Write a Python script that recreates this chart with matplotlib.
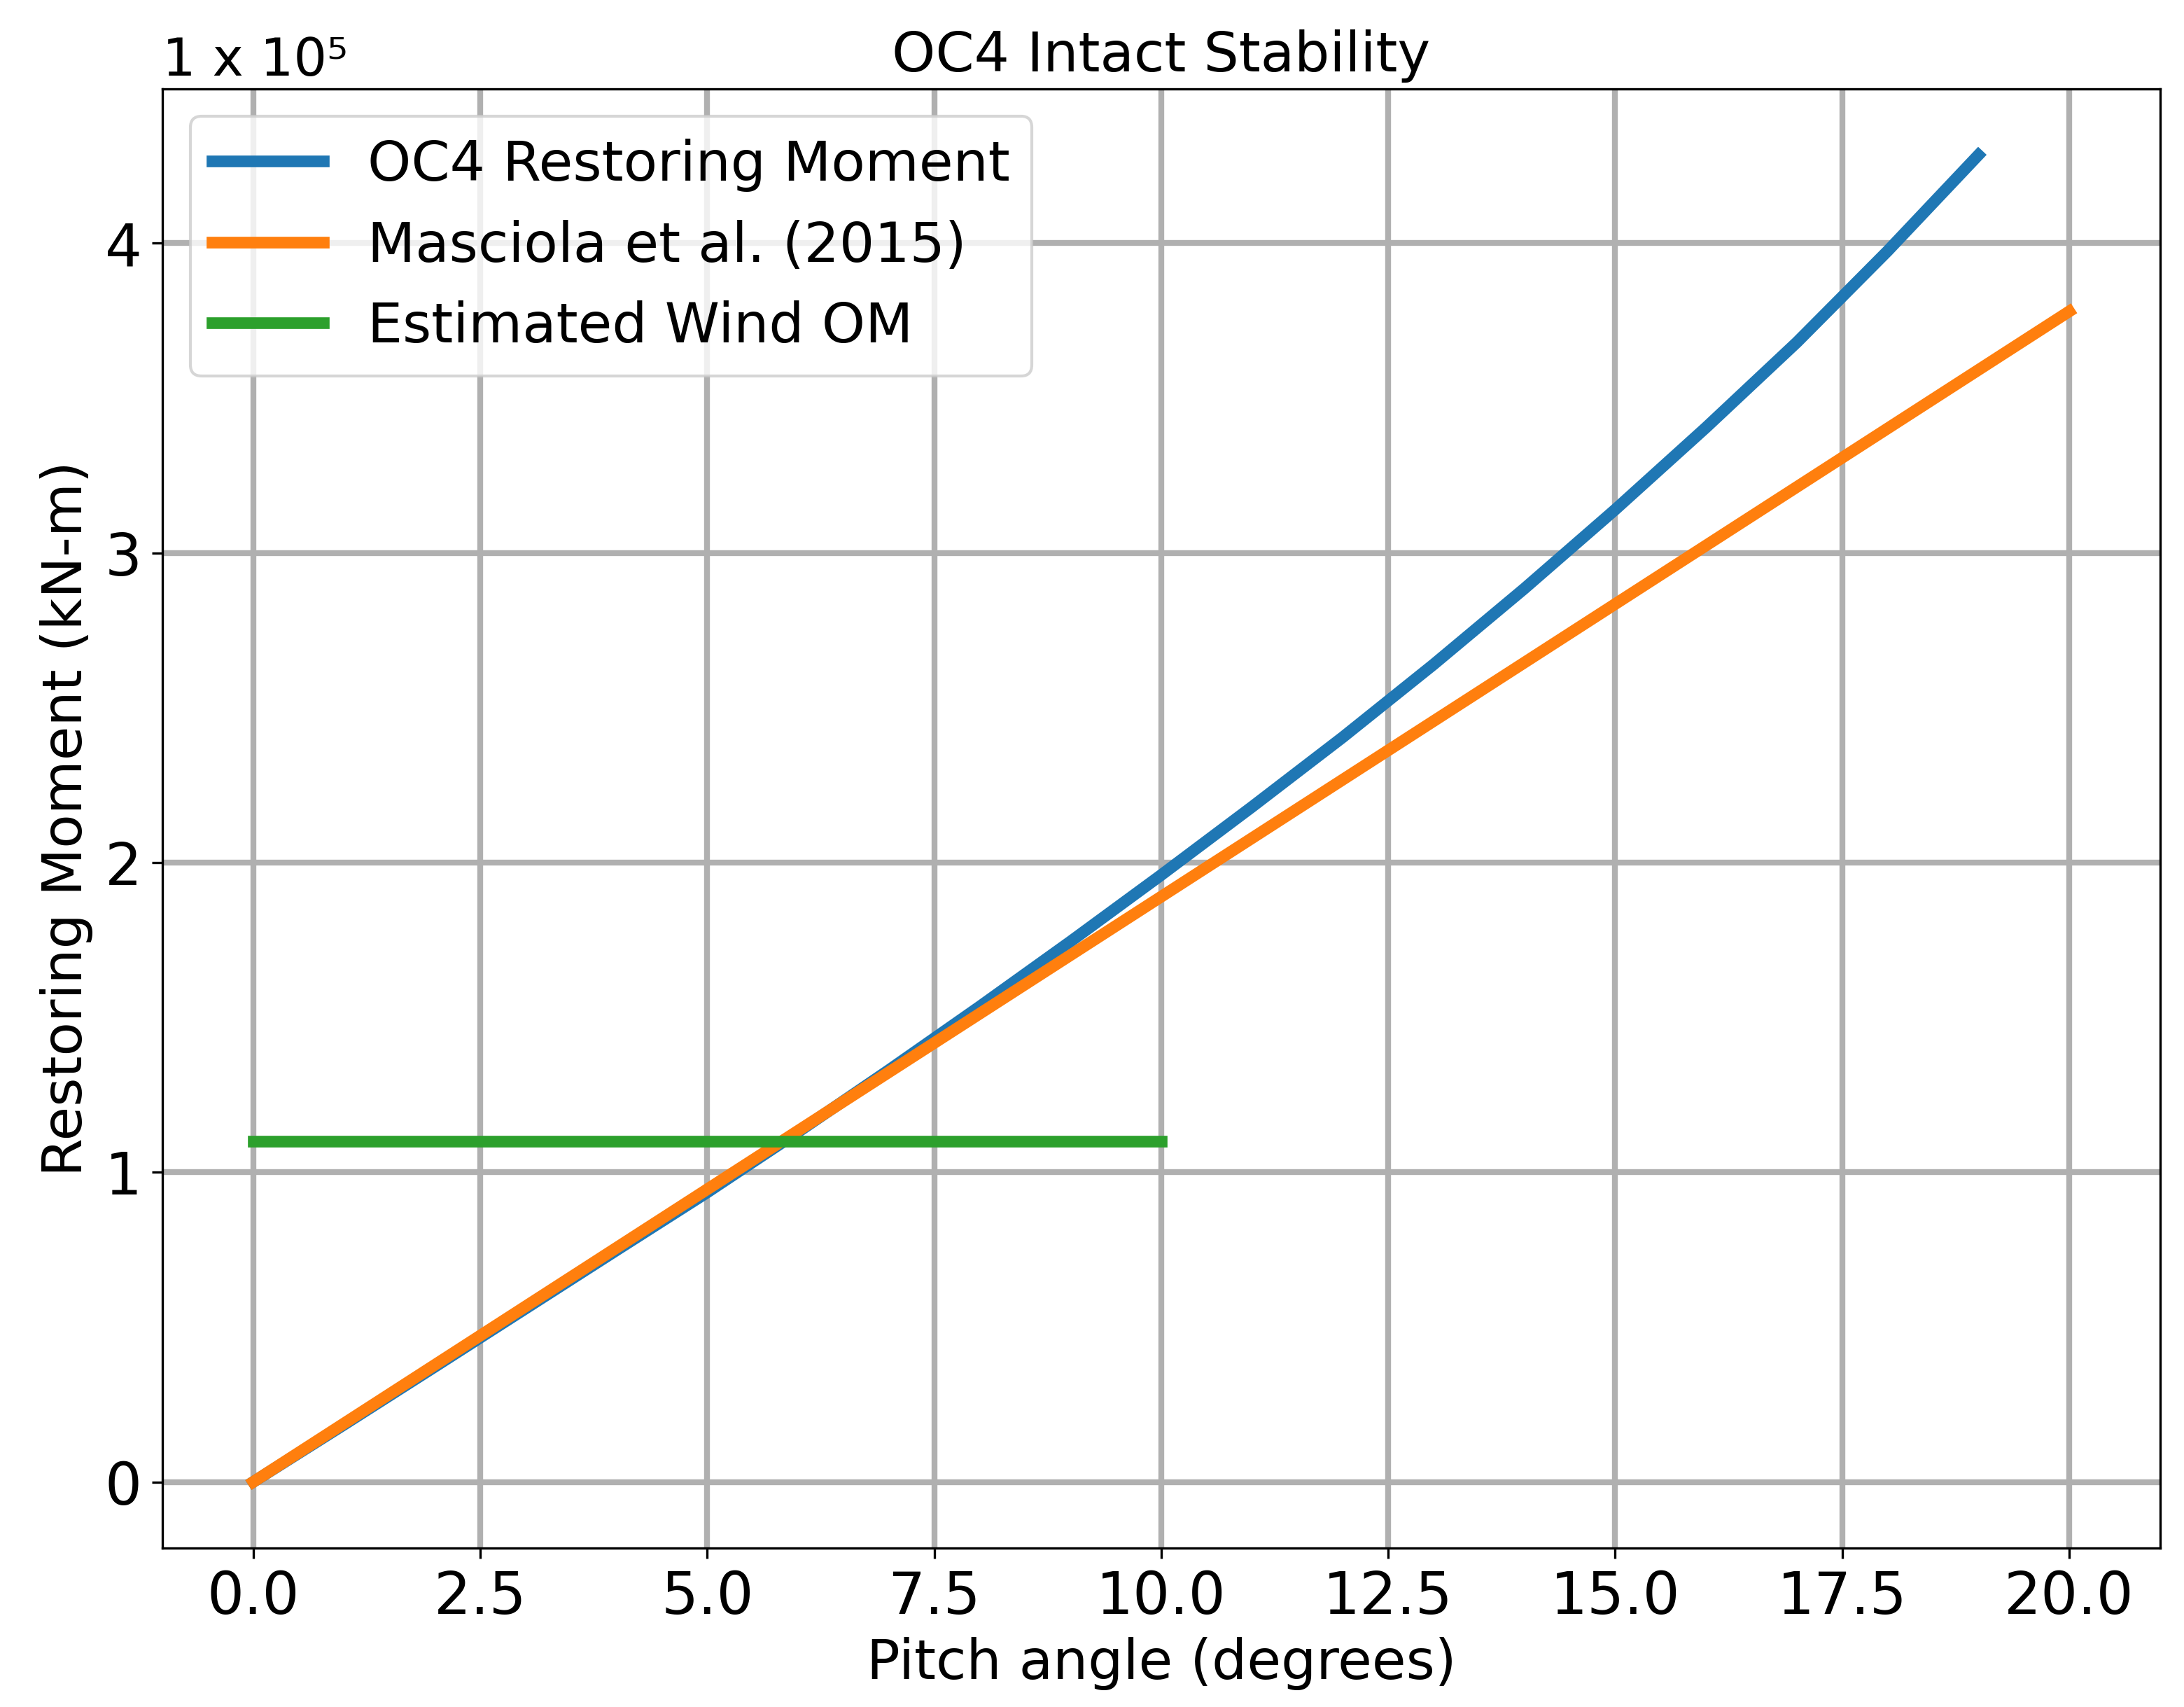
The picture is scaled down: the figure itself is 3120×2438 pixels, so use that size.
import numpy as np
import matplotlib
matplotlib.use("Agg")
import matplotlib.pyplot as plt

# Restoring moment in kN-m, plotted in units of 1e5
scale = 1e5

pitch_oc4 = [0, 1, 2, 3, 4, 5, 6, 7, 8, 9, 10, 11, 12, 13, 14, 15, 16, 17, 18, 19]
moment_oc4 = [0, 18500, 37200, 56000, 74800, 93500, 113000, 133000, 153500, 174500,
              196000, 218000, 240500, 264000, 288500, 314000, 340500, 368000, 397500, 428500]

pitch_masciola = [0, 20]
moment_masciola = [0, 378000]

pitch_wind = [0, 10]
moment_wind = [110000, 110000]


def main() -> None:
    fig = plt.figure(figsize=(10.4, 8.127), dpi=300)
    ax = fig.add_subplot(111)

    ax.plot(pitch_oc4, np.array(moment_oc4) / scale, linewidth=4, label="OC4 Restoring Moment")
    ax.plot(pitch_masciola, np.array(moment_masciola) / scale, linewidth=4, label="Masciola et al. (2015)")
    ax.plot(pitch_wind, np.array(moment_wind) / scale, linewidth=4, label="Estimated Wind OM")

    ax.set_title("OC4 Intact Stability", fontsize=19)
    ax.set_xlabel("Pitch angle (degrees)", fontsize=19)
    ax.set_ylabel("Restoring Moment (kN-m)", fontsize=19)
    ax.tick_params(labelsize=20)
    ax.text(0.0, 1.009, "1 x 10\u2075", transform=ax.transAxes, fontsize=18,
            ha="left", va="baseline")

    ax.grid(linewidth=2)
    ax.legend(fontsize=19, loc="upper left")

    fig.subplots_adjust(left=0.0744, right=0.989, bottom=0.093, top=0.948)
    fig.savefig("out.png", dpi=300)


if __name__ == '__main__':
    main()
